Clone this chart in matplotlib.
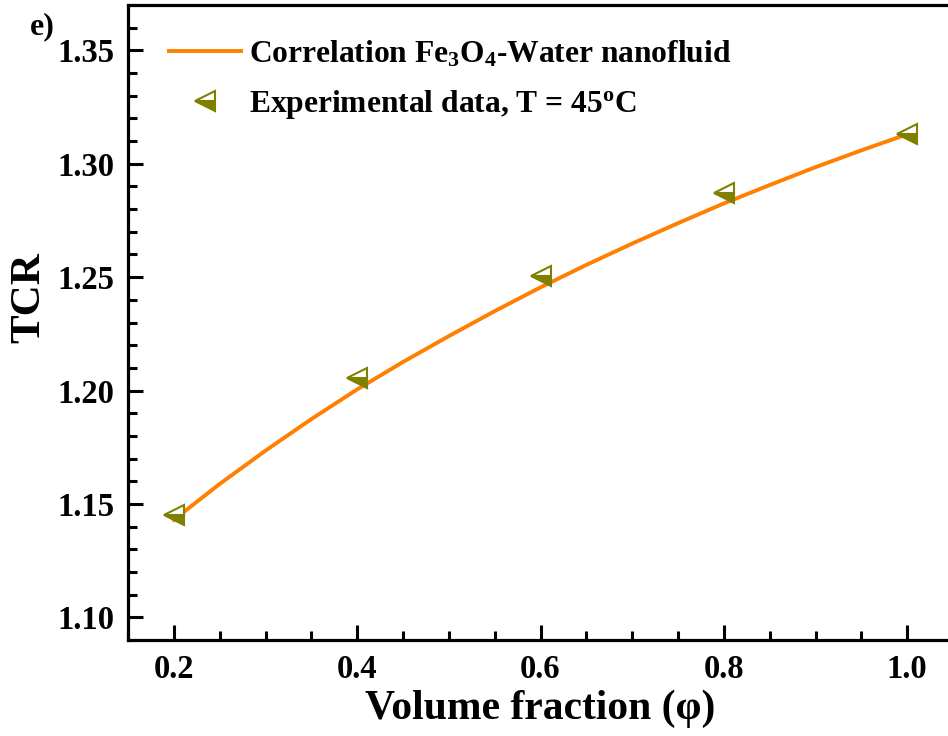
import matplotlib
matplotlib.use("Agg")
import matplotlib.pyplot as plt
from matplotlib.ticker import MultipleLocator

plt.rcParams['font.family'] = ['Liberation Serif', 'DejaVu Serif']
plt.rcParams['font.weight'] = 'bold'
plt.rcParams['mathtext.fontset'] = 'custom'
plt.rcParams['mathtext.rm'] = 'Liberation Serif:bold'
plt.rcParams['mathtext.bf'] = 'Liberation Serif:bold'
plt.rcParams['mathtext.it'] = 'Liberation Serif:bold'
plt.rcParams['mathtext.default'] = 'bf'

# Data
curve_x = [0.2, 0.25, 0.3, 0.35, 0.4, 0.45, 0.5, 0.55, 0.6,
           0.65, 0.7, 0.75, 0.8, 0.85, 0.9, 0.95, 1.0]
curve_tcr = [1.1430, 1.1588, 1.1735, 1.1874, 1.2005, 1.2126, 1.2240, 1.2350, 1.2455,
             1.2554, 1.2648, 1.2738, 1.2825, 1.2906, 1.2985, 1.3059, 1.3130]
exp_x = [0.2, 0.4, 0.6, 0.8, 1.0]
exp_tcr = [1.145, 1.2054, 1.2505, 1.2870, 1.3133]
xticks = [0.2, 0.4, 0.6, 0.8, 1.0]
yticks = [1.10, 1.15, 1.20, 1.25, 1.30, 1.35]

fig = plt.figure(figsize=(9.48, 7.36), dpi=100)
ax = fig.add_axes([128/948, 96/736, (953-128)/948, (640-5)/736])

ax.plot(curve_x, curve_tcr, color='#FF7F00', lw=2.8,
        label='Correlation Fe$_3$O$_4$-Water nanofluid', zorder=2)
ax.plot(exp_x, exp_tcr, ls='none', marker='<', markersize=14.5,
        fillstyle='bottom', color='#808000', markerfacecolor='#808000',
        markerfacecoloralt='white', markeredgecolor='#808000',
        markeredgewidth=1.5, label='Experimental data, T = 45$^{\\mathrm{o}}$C', zorder=3)

ax.set_xlim(0.15, 1.05)
ax.set_ylim(1.09, 1.37)
ax.set_xticks(xticks)
ax.set_yticks(yticks)
ax.set_xticklabels([f"{v:.1f}" for v in xticks])
ax.set_yticklabels([f"{v:.2f}" for v in yticks])
ax.xaxis.set_minor_locator(MultipleLocator(0.05))
ax.yaxis.set_minor_locator(MultipleLocator(0.01))

for s in ax.spines.values():
    s.set_linewidth(2.3)
ax.tick_params(which='both', direction='in', width=2.2, top=False, right=False)
ax.tick_params(which='major', length=10.5, labelsize=23.5, pad=10)
ax.tick_params(which='minor', length=6.5)
for lab in ax.get_xticklabels() + ax.get_yticklabels():
    lab.set_fontweight('bold')

ax.set_xlabel('Volume fraction (φ)', fontsize=30, fontweight='bold', labelpad=3)
ax.set_ylabel('TCR', fontsize=31, fontweight='bold', labelpad=10)
ax.yaxis.set_label_coords(-0.097, 0.54)

leg = ax.legend(loc='upper left', bbox_to_anchor=(0.035, 0.967), frameon=False,
                fontsize=22.7, handlelength=2.27, handletextpad=0.24,
                labelspacing=0.6, borderaxespad=0)
for t in leg.get_texts():
    t.set_fontweight('bold')

fig.text(30/948, 1 - 27/736, 'e)', fontsize=23, fontweight='bold', va='center', ha='left')

fig.savefig('out.png', dpi=100)
